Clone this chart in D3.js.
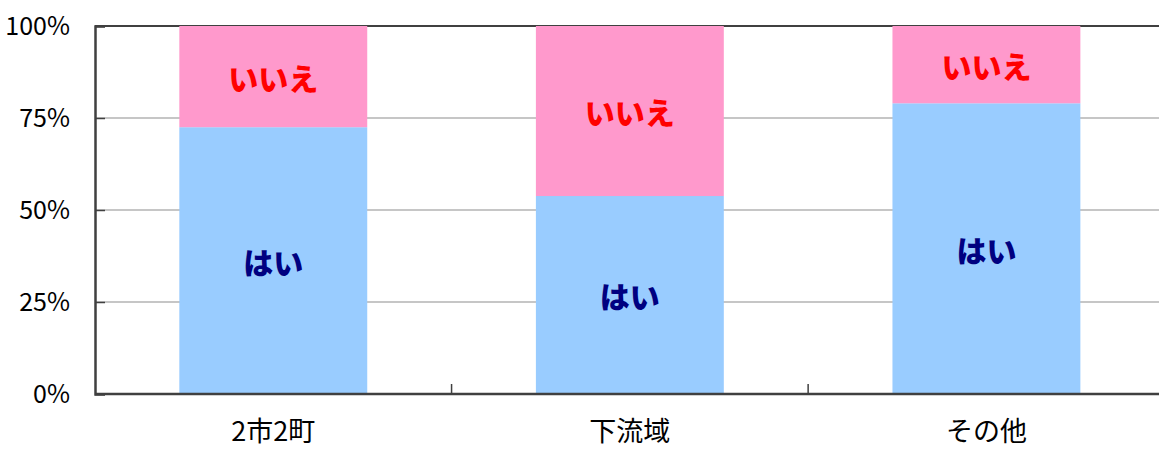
<!DOCTYPE html>
<html><head><meta charset="utf-8">
<script src="https://cdn.jsdelivr.net/npm/d3@7"></script>
<style>body{margin:0;background:#fff}svg{display:block}</style>
</head><body>
<svg id="c" width="1159" height="450"></svg>
<script>
const categories = ["2市2町", "下流域", "その他"];
const yesValues = [72.5, 53.8, 79.0];
const noValues = [27.5, 46.2, 21.0];
const seriesNames = ["はい", "いいえ"];
const yTicks = [0, 25, 50, 75, 100];
const yTickLabels = ["0%", "25%", "50%", "75%", "100%"];

(function () {
const svg = d3.select("#c");
const pL = 95, pR = 1164.7, pT = 26, pB = 394;
const x = d3.scaleBand().domain(categories).range([pL, pR]).paddingInner(0.473).paddingOuter(0.2365);
const y = d3.scaleLinear().domain([0, 100]).range([pB, pT]);
const fontJP = "'Noto Sans CJK JP', 'Noto Sans', sans-serif";

// gridlines
svg.append("g").selectAll("line").data(yTicks.filter(d => d > 0 && d < 100)).join("line")
  .attr("x1", pL).attr("x2", 1159).attr("y1", d => y(d)).attr("y2", d => y(d))
  .attr("stroke", "#b3b3b3").attr("stroke-width", 1.5);

// top border
svg.append("line").attr("x1", pL).attr("x2", 1159).attr("y1", pT).attr("y2", pT)
  .attr("stroke", "#404040").attr("stroke-width", 2);

// stacked data
const rows = categories.map((c, i) => ({cat: c, yes: yesValues[i], no: noValues[i]}));
const stack = d3.stack().keys(["yes", "no"])(rows);
const colors = {yes: "#99ccff", no: "#ff99cc"};
const textColors = {yes: "#000080", no: "#ff0000"};
const names = {yes: seriesNames[0], no: seriesNames[1]};

stack.forEach(s => {
  const g = svg.append("g");
  g.selectAll("rect").data(s).join("rect")
    .attr("x", d => x(d.data.cat)).attr("width", x.bandwidth())
    .attr("y", d => y(d[1])).attr("height", d => y(d[0]) - y(d[1]))
    .attr("fill", colors[s.key]);
  g.selectAll("text").data(s).join("text")
    .attr("x", d => x(d.data.cat) + x.bandwidth() / 2)
    .attr("y", d => (y(d[0]) + y(d[1])) / 2)
    .attr("text-anchor", "middle").attr("dominant-baseline", "central")
    .attr("font-family", fontJP).attr("font-weight", "900").attr("font-size", 30)
    .attr("fill", textColors[s.key]).text(names[s.key]);
});

// y axis
const yAxis = d3.axisLeft(y).tickValues(yTicks).tickFormat((d, i) => yTickLabels[i]).tickSize(-10).tickPadding(25);
const ya = svg.append("g").attr("transform", `translate(${pL},0)`).call(yAxis);
ya.select(".domain").attr("stroke", "#404040").attr("stroke-width", 2.5);
ya.selectAll(".tick line").attr("stroke", "#404040").attr("stroke-width", 1.5);
ya.selectAll("text").attr("font-family", fontJP).attr("font-size", 25).attr("fill", "#000")
  .attr("text-anchor", "end").attr("x", -25);

// x axis
const xa = svg.append("g").attr("transform", `translate(0,${pB})`);
xa.append("line").attr("x1", pL).attr("x2", 1159).attr("stroke", "#404040").attr("stroke-width", 2.5);
const step = x.step();
xa.selectAll("line.tk").data(categories.slice(1)).join("line").attr("class", "tk")
  .attr("x1", d => x(d) - (step - x.bandwidth()) / 2).attr("x2", d => x(d) - (step - x.bandwidth()) / 2)
  .attr("y1", 0).attr("y2", -10).attr("stroke", "#404040").attr("stroke-width", 1.5);
xa.selectAll("text").data(categories).join("text")
  .attr("x", d => x(d) + x.bandwidth() / 2).attr("y", 35)
  .attr("text-anchor", "middle").attr("dominant-baseline", "central")
  .attr("font-family", fontJP).attr("font-size", 27).attr("fill", "#000").text(d => d);
})();
</script>
</body></html>
